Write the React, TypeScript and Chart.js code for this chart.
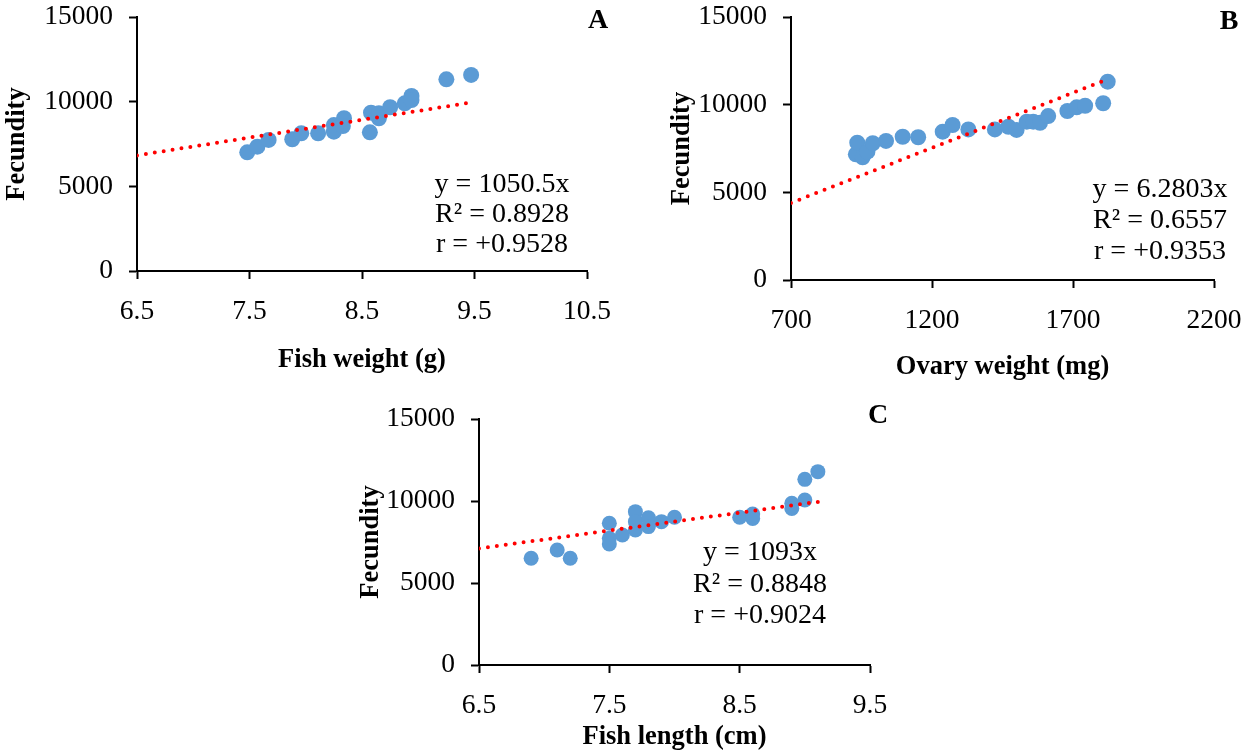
import React, { useEffect, useRef } from "react";
import { Chart, registerables } from "chart.js";

Chart.register(...registerables);

const SERIF = "'Liberation Serif', 'Times New Roman', serif";
const POINT_COLOR = "#5B9BD5";
const TREND_COLOR = "#FF0000";

// ---------- Panel A: fecundity vs fish weight ----------
const A_WEIGHT = [7.48, 7.57, 7.67, 7.88, 7.96, 8.11, 8.25, 8.25, 8.34, 8.33, 8.57, 8.58, 8.65, 8.65, 8.75, 8.88, 8.94, 8.94, 9.25, 9.47];
const A_FECUNDITY = [7010, 7340, 7740, 7780, 8130, 8130, 8230, 8620, 9020, 8560, 8190, 9350, 9020, 9310, 9670, 9900, 10340, 10100, 11320, 11580];
const A_TREND_X = [6.5, 9.5];
const A_TREND_Y = [6828, 9980];
const A_X_TICKS = [6.5, 7.5, 8.5, 9.5, 10.5];
const A_EQUATION = ["y = 1050.5x", "R² = 0.8928", "r = +0.9528"];

// ---------- Panel B: fecundity vs ovary weight ----------
const B_OVARY = [930, 935, 954, 971, 990, 1037, 1096, 1151, 1238, 1273, 1329, 1423, 1471, 1500, 1536, 1559, 1583, 1612, 1680, 1713, 1743, 1807, 1823];
const B_FECUNDITY = [7170, 7830, 7000, 7320, 7800, 7930, 8170, 8140, 8460, 8840, 8590, 8590, 8740, 8560, 9030, 9030, 8970, 9350, 9640, 9850, 9940, 10080, 11310];
const B_TREND_X = [700, 1810];
const B_TREND_Y = [4396, 11370];
const B_X_TICKS = [700, 1200, 1700, 2200];
const B_EQUATION = ["y = 6.2803x", "R² = 0.6557", "r = +0.9353"];

// ---------- Panel C: fecundity vs fish length ----------
const C_LENGTH = [6.9, 7.1, 7.2, 7.5, 7.5, 7.5, 7.6, 7.7, 7.7, 7.7, 7.8, 7.8, 7.9, 8.0, 8.5, 8.6, 8.6, 8.9, 8.9, 9.0, 9.0, 9.1];
const C_FECUNDITY = [6510, 7010, 6510, 8640, 7730, 7380, 7930, 9350, 8230, 8740, 8980, 8440, 8740, 9010, 9010, 9210, 8940, 9860, 9550, 10060, 11320, 11790];
const C_TREND_X = [6.5, 9.1];
const C_TREND_Y = [7105, 9946];
const C_X_TICKS = [6.5, 7.5, 8.5, 9.5];
const C_EQUATION = ["y = 1093x", "R² = 0.8848", "r = +0.9024"];

const FECUNDITY_TICKS = [0, 5000, 10000, 15000];

type Panel = {
  letter: string;
  xs: number[];
  ys: number[];
  trendX: number[];
  trendY: number[];
  xTicks: number[];
  yTicks: number[];
  xTitle: string;
  yTitle: string;
  equation: string[];
  canvas: { left: number; top: number; width: number; height: number };
  area: { left: number; right: number; top: number; bottom: number };
  yTitlePad: number;
  eq: { x: number; y: number; step: number };
  letterPos: { x: number; y: number };
  radius: number;
};

const PANELS: Panel[] = [
  {
    letter: "A",
    xs: A_WEIGHT,
    ys: A_FECUNDITY,
    trendX: A_TREND_X,
    trendY: A_TREND_Y,
    xTicks: A_X_TICKS,
    yTicks: FECUNDITY_TICKS,
    xTitle: "Fish weight (g)",
    yTitle: "Fecundity",
    equation: A_EQUATION,
    canvas: { left: 0, top: 0, width: 620, height: 376 },
    area: { left: 137, right: 587, top: 17, bottom: 271 },
    yTitlePad: 1,
    eq: { x: 502, y: 185, step: 30 },
    letterPos: { x: 598, y: 21 },
    radius: 8,
  },
  {
    letter: "B",
    xs: B_OVARY,
    ys: B_FECUNDITY,
    trendX: B_TREND_X,
    trendY: B_TREND_Y,
    xTicks: B_X_TICKS,
    yTicks: FECUNDITY_TICKS,
    xTitle: "Ovary weight (mg)",
    yTitle: "Fecundity",
    equation: B_EQUATION,
    canvas: { left: 640, top: 0, width: 602, height: 383 },
    area: { left: 151, right: 574, top: 17, bottom: 280 },
    yTitlePad: 26,
    eq: { x: 1160, y: 190, step: 31 },
    letterPos: { x: 1229, y: 22 },
    radius: 8,
  },
  {
    letter: "C",
    xs: C_LENGTH,
    ys: C_FECUNDITY,
    trendX: C_TREND_X,
    trendY: C_TREND_Y,
    xTicks: C_X_TICKS,
    yTicks: FECUNDITY_TICKS,
    xTitle: "Fish length (cm)",
    yTitle: "Fecundity",
    equation: C_EQUATION,
    canvas: { left: 340, top: 390, width: 560, height: 363 },
    area: { left: 139, right: 530, top: 29, bottom: 275 },
    yTitlePad: 15,
    eq: { x: 760, y: 553, step: 31.5 },
    letterPos: { x: 878, y: 416 },
    radius: 7.5,
  },
];

const annotatePlugin = {
  id: "annotate",
  afterDraw(chart: any, _args: any, opts: any) {
    const ctx = chart.ctx;
    ctx.save();
    ctx.fillStyle = "#000";
    ctx.textAlign = "center";
    ctx.textBaseline = "middle";
    ctx.font = `28px ${SERIF}`;
    (opts.lines as string[]).forEach((t, i) => {
      ctx.fillText(t, opts.eqX, opts.eqY + i * opts.eqStep);
    });
    ctx.font = `bold 28px ${SERIF}`;
    ctx.fillText(opts.letter, opts.letterX, opts.letterY);
    ctx.restore();
  },
};

function clearPadding(s: any) {
  s.paddingTop = 0;
  s.paddingBottom = 0;
  s.paddingLeft = 0;
  s.paddingRight = 0;
}

function PanelChart({ p }: { p: Panel }) {
  const ref = useRef<HTMLCanvasElement | null>(null);

  useEffect(() => {
    if (!ref.current) return;
    const { canvas, area } = p;
    const tickFont = { family: SERIF, size: 27.5 };
    const titleFont = { family: SERIF, size: 26.5, weight: "bold" as const };
    const chart = new Chart(ref.current, {
      type: "scatter",
      data: {
        datasets: [
          {
            label: "trend",
            data: p.trendX.map((x, i) => ({ x, y: p.trendY[i] })),
            showLine: true,
            borderColor: TREND_COLOR,
            borderWidth: 4,
            borderDash: [0, 9],
            borderCapStyle: "round",
            pointRadius: 0,
            fill: false,
            order: 0,
          } as any,
          {
            label: "data",
            data: p.xs.map((x, i) => ({ x, y: p.ys[i] })),
            backgroundColor: POINT_COLOR,
            borderColor: POINT_COLOR,
            borderWidth: 0,
            pointRadius: p.radius,
            order: 1,
          },
        ],
      },
      options: {
        responsive: false,
        animation: false,
        devicePixelRatio: 1,
        layout: {
          padding: {
            left: 0,
            top: area.top,
            right: canvas.width - area.right,
            bottom: 0,
          },
        },
        plugins: {
          legend: { display: false },
          tooltip: { enabled: false },
          annotate: {
            lines: p.equation,
            eqX: p.eq.x - canvas.left,
            eqY: p.eq.y - canvas.top,
            eqStep: p.eq.step,
            letter: p.letter,
            letterX: p.letterPos.x - canvas.left,
            letterY: p.letterPos.y - canvas.top,
          },
        } as any,
        scales: {
          x: {
            type: "linear",
            min: p.xTicks[0],
            max: p.xTicks[p.xTicks.length - 1],
            afterBuildTicks: (s: any) => {
              s.ticks = p.xTicks.map((v) => ({ value: v }));
            },
            afterFit: (s: any) => {
              s.height = canvas.height - area.bottom;
              clearPadding(s);
            },
            ticks: {
              font: tickFont,
              color: "#000",
              padding: 16,
              autoSkip: false,
              maxRotation: 0,
              callback: (v: any) => String(v),
            },
            grid: {
              display: true,
              drawOnChartArea: false,
              drawTicks: true,
              tickLength: 8,
              tickWidth: 2,
              tickColor: "#000",
            },
            border: { display: true, color: "#000", width: 2 },
            title: {
              display: true,
              text: p.xTitle,
              font: titleFont,
              color: "#000",
              padding: { top: 0, bottom: 0 },
            },
          },
          y: {
            type: "linear",
            min: p.yTicks[0],
            max: p.yTicks[p.yTicks.length - 1],
            afterBuildTicks: (s: any) => {
              s.ticks = p.yTicks.map((v) => ({ value: v }));
            },
            afterFit: (s: any) => {
              s.width = area.left;
              clearPadding(s);
            },
            ticks: {
              font: tickFont,
              color: "#000",
              padding: 16,
              autoSkip: false,
              callback: (v: any) => String(v),
            },
            grid: {
              display: true,
              drawOnChartArea: false,
              drawTicks: true,
              tickLength: 8,
              tickWidth: 2,
              tickColor: "#000",
            },
            border: { display: true, color: "#000", width: 2 },
            title: {
              display: true,
              text: p.yTitle,
              font: titleFont,
              color: "#000",
              padding: { top: p.yTitlePad, bottom: 0 },
            },
          },
        },
      },
      plugins: [annotatePlugin],
    });
    return () => chart.destroy();
  }, [p]);

  return (
    <canvas
      ref={ref}
      width={p.canvas.width}
      height={p.canvas.height}
      style={{
        position: "absolute",
        left: p.canvas.left,
        top: p.canvas.top,
        width: p.canvas.width,
        height: p.canvas.height,
      }}
    />
  );
}

export default function App() {
  return (
    <div
      style={{
        position: "absolute",
        left: 0,
        top: 0,
        width: 1242,
        height: 753,
        background: "#fff",
        overflow: "hidden",
      }}
    >
      {PANELS.map((p) => (
        <PanelChart key={p.letter} p={p} />
      ))}
    </div>
  );
}
